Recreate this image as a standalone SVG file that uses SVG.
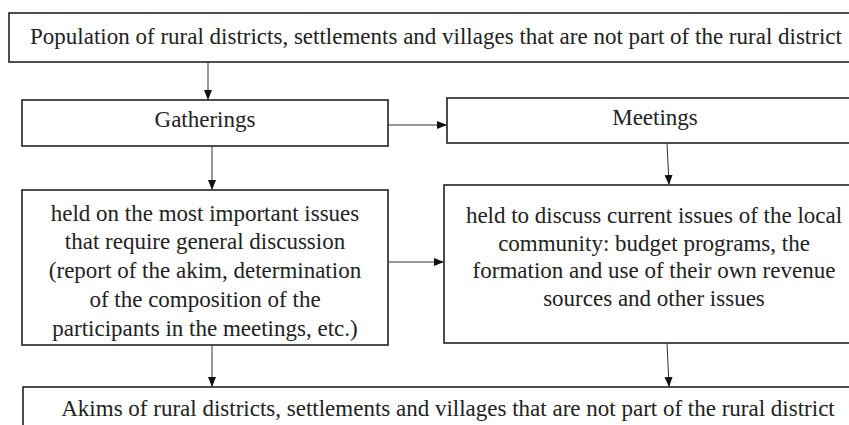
<svg xmlns="http://www.w3.org/2000/svg" width="849" height="425" viewBox="0 0 849 425">
<style>
.box{fill:#fff;stroke:#222;stroke-width:1.6}
.lbl{font-family:'Liberation Serif','Times New Roman',serif;font-size:23px;fill:#222;text-anchor:middle}
.c{stroke:#333;stroke-width:1;fill:none}
</style>
<defs>
<marker id="ah" markerWidth="10" markerHeight="10" refX="9" refY="4" orient="auto" markerUnits="userSpaceOnUse">
<path d="M0,0 L10,4 L0,8 Z" fill="#111"/>
</marker>
</defs>
<rect width="849" height="425" fill="#fff"/>
<g id="population">
<rect class="box" x="9" y="13" width="855" height="49"/>
<text class="lbl" x="436" y="44">Population of rural districts, settlements and villages that are not part of the rural district</text>
</g>
<g id="gatherings">
<rect class="box" x="22" y="100" width="366" height="46"/>
<text class="lbl" x="205" y="127">Gatherings</text>
</g>
<g id="meetings">
<rect class="box" x="447" y="98" width="417" height="45"/>
<text class="lbl" x="655" y="125">Meetings</text>
</g>
<g id="gatherings-desc">
<rect class="box" x="22" y="190" width="366" height="155"/>
<text class="lbl" x="205" y="221">held on the most important issues</text>
<text class="lbl" x="205" y="249">that require general discussion</text>
<text class="lbl" x="205" y="278">(report of the akim, determination</text>
<text class="lbl" x="205" y="307">of the composition of the</text>
<text class="lbl" x="205" y="336">participants in the meetings, etc.)</text>
</g>
<g id="meetings-desc">
<rect class="box" x="444" y="185" width="420" height="158"/>
<text class="lbl" x="654" y="223">held to discuss current issues of the local</text>
<text class="lbl" x="654" y="251">community: budget programs, the</text>
<text class="lbl" x="654" y="278">formation and use of their own revenue</text>
<text class="lbl" x="654" y="306">sources and other issues</text>
</g>
<g id="akims">
<rect class="box" x="23" y="387" width="850" height="60"/>
<text class="lbl" x="448" y="416">Akims of rural districts, settlements and villages that are not part of the rural district</text>
</g>
<g id="connectors">
<line class="c" x1="208" y1="62" x2="208" y2="99" marker-end="url(#ah)"/>
<line class="c" x1="212" y1="146" x2="212" y2="189" marker-end="url(#ah)"/>
<line class="c" x1="388" y1="125" x2="446" y2="125" marker-end="url(#ah)"/>
<line class="c" x1="667" y1="143" x2="669" y2="184" marker-end="url(#ah)"/>
<line class="c" x1="388" y1="262" x2="443" y2="262" marker-end="url(#ah)"/>
<line class="c" x1="212" y1="345" x2="212" y2="386" marker-end="url(#ah)"/>
<line class="c" x1="667" y1="343" x2="669" y2="386" marker-end="url(#ah)"/>
</g>
</svg>
